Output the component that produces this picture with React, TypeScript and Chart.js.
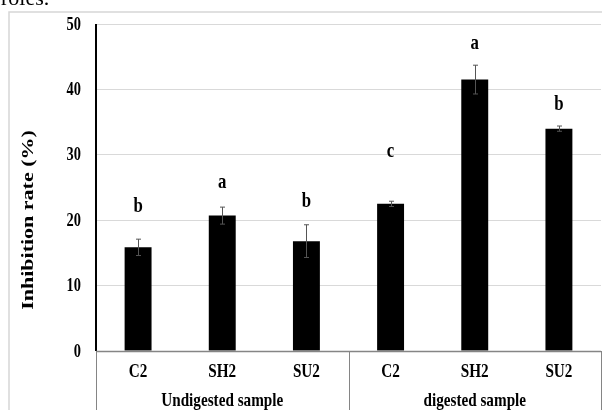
import React, { useEffect, useRef } from "react";
import { Chart, registerables } from "chart.js";

Chart.register(...registerables);

const categories = ["C2", "SH2", "SU2", "C2", "SH2", "SU2"];
const groups = ["Undigested sample", "digested sample"];
const inhibition = [15.85, 20.7, 16.8, 22.5, 41.5, 34.0];
const errors = [1.25, 1.3, 2.5, 0.4, 2.2, 0.4];
const letters = ["b", "a", "b", "c", "a", "b"];
const letterPos = [21.2, 24.9, 22.0, 29.7, 46.2, 36.9];
const yTicks = [0, 10, 20, 30, 40, 50];
const yTitle = "Inhibition rate (%)";
const headText = "roles.";

const SERIF = '"Liberation Serif", "Times New Roman", serif';

function condText(
  ctx: CanvasRenderingContext2D,
  text: string,
  x: number,
  y: number,
  font: string,
  align: CanvasTextAlign,
  baseline: CanvasTextBaseline,
  sx = 0.8
) {
  ctx.save();
  ctx.translate(x, y);
  ctx.scale(sx, 1);
  ctx.font = font;
  ctx.textAlign = align;
  ctx.textBaseline = baseline;
  ctx.fillStyle = "#000";
  ctx.fillText(text, 0, 0);
  ctx.restore();
}

const decor = {
  id: "decor",
  beforeDraw(chart: any) {
    const ctx: CanvasRenderingContext2D = chart.ctx;
    ctx.save();
    ctx.fillStyle = "#fff";
    ctx.fillRect(0, 0, chart.width, chart.height);
    // outer frame
    ctx.strokeStyle = "#d6d6d6";
    ctx.lineWidth = 1.5;
    ctx.strokeRect(9, 12, chart.width + 50, chart.height + 50);
    ctx.restore();
    // cropped text at top
    ctx.save();
    ctx.font = `22px ${SERIF}`;
    ctx.fillStyle = "#000";
    ctx.textAlign = "left";
    ctx.textBaseline = "alphabetic";
    ctx.fillText(headText, 1, 5);
    ctx.restore();
  },
  afterDatasetsDraw(chart: any) {
    const ctx: CanvasRenderingContext2D = chart.ctx;
    const ys = chart.scales.y;
    const xs = chart.scales.x;
    const area = chart.chartArea;
    const meta = chart.getDatasetMeta(0);

    // error bars
    ctx.save();
    ctx.strokeStyle = "#555";
    ctx.lineWidth = 1;
    meta.data.forEach((bar: any, i: number) => {
      const x = Math.round(bar.x) + 0.5;
      const yt = ys.getPixelForValue(inhibition[i] + errors[i]);
      const yb = ys.getPixelForValue(inhibition[i] - errors[i]);
      ctx.beginPath();
      ctx.moveTo(x, yt);
      ctx.lineTo(x, yb);
      ctx.moveTo(x - 2.5, yt);
      ctx.lineTo(x + 2.5, yt);
      ctx.moveTo(x - 2.5, yb);
      ctx.lineTo(x + 2.5, yb);
      ctx.stroke();
    });
    ctx.restore();

    // significance letters
    meta.data.forEach((bar: any, i: number) => {
      condText(ctx, letters[i], bar.x, ys.getPixelForValue(letterPos[i]), `bold 21px ${SERIF}`, "center", "alphabetic");
    });

    // y axis line
    ctx.save();
    ctx.strokeStyle = "#000";
    ctx.lineWidth = 2;
    ctx.beginPath();
    ctx.moveTo(area.left, area.top);
    ctx.lineTo(area.left, area.bottom);
    ctx.stroke();
    ctx.restore();

    // y tick labels
    yTicks.forEach((t) => {
      condText(ctx, String(t), area.left - 15, ys.getPixelForValue(t) + 1, `bold 18px ${SERIF}`, "right", "middle");
    });

    // category box
    const bottom = chart.height;
    ctx.save();
    ctx.strokeStyle = "#858585";
    ctx.lineWidth = 1.3;
    ctx.beginPath();
    ctx.moveTo(area.left, Math.round(area.bottom) + 0.5);
    ctx.lineTo(area.right, Math.round(area.bottom) + 0.5);
    ctx.stroke();
    ctx.lineWidth = 1;
    const mid = (xs.getPixelForValue(2) + xs.getPixelForValue(3)) / 2;
    [area.left, mid, area.right - 0.5].forEach((x) => {
      ctx.beginPath();
      ctx.moveTo(Math.round(x) + 0.5, area.bottom);
      ctx.lineTo(Math.round(x) + 0.5, bottom);
      ctx.stroke();
    });
    ctx.restore();

    categories.forEach((c, i) => {
      condText(ctx, c, xs.getPixelForValue(i), area.bottom + 21, `bold 19px ${SERIF}`, "center", "middle");
    });
    const g0 = (area.left + mid) / 2;
    const g1 = (mid + area.right) / 2;
    condText(ctx, groups[0], g0, area.bottom + 50, `bold 19px ${SERIF}`, "center", "middle");
    condText(ctx, groups[1], g1, area.bottom + 50, `bold 19px ${SERIF}`, "center", "middle");

    // y title
    ctx.save();
    ctx.translate(28, 220);
    ctx.rotate(-Math.PI / 2);
    ctx.scale(1, 0.8);
    ctx.font = `bold 22px ${SERIF}`;
    ctx.fillStyle = "#000";
    ctx.textAlign = "center";
    ctx.textBaseline = "middle";
    ctx.fillText(yTitle, 0, 0);
    ctx.restore();
  },
};

export default function App() {
  const ref = useRef<HTMLCanvasElement | null>(null);
  useEffect(() => {
    if (!ref.current) return;
    const chart = new Chart(ref.current, {
      type: "bar",
      data: {
        labels: categories,
        datasets: [
          {
            data: inhibition,
            backgroundColor: "#000",
            borderWidth: 0,
            barPercentage: 0.32,
            categoryPercentage: 1,
          },
        ],
      },
      options: {
        animation: false,
        responsive: false,
        devicePixelRatio: 1,
        layout: { padding: { left: 96, top: 24, right: 1, bottom: 59 } },
        plugins: { legend: { display: false }, tooltip: { enabled: false } },
        scales: {
          x: { display: false },
          y: {
            display: true,
            min: 0,
            max: 50,
            ticks: { display: false, stepSize: 10 },
            grid: { color: "#d9d9d9", drawTicks: false, lineWidth: 1 },
            border: { display: false },
          },
        },
      },
      plugins: [decor],
    });
    return () => chart.destroy();
  }, []);
  return (
    <div style={{ position: "fixed", left: 0, top: 0, width: 602, height: 410, background: "#fff" }}>
      <canvas ref={ref} width={602} height={410} />
    </div>
  );
}
